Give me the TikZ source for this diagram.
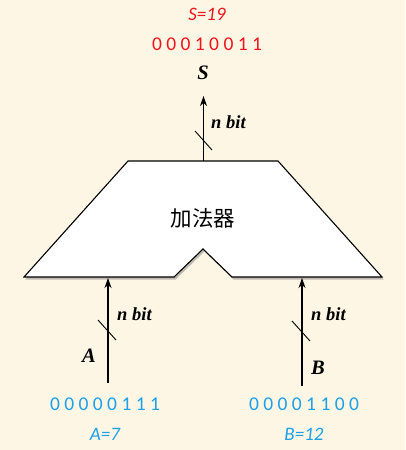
\documentclass[tikz,border=0pt]{standalone}
\usepackage{fontspec}
\setmainfont{Liberation Serif}
\newfontfamily\calfont{Carlito}
\newfontfamily\cjk{Noto Sans CJK SC}
\usetikzlibrary{arrows.meta,shadows}
\definecolor{bg}{RGB}{253,246,228}
\definecolor{bitblue}{RGB}{27,160,235}
\definecolor{bitred}{RGB}{240,20,30}
\tikzset{
  sig/.style={line width=1.1pt,-{Stealth[length=10pt,width=7pt,inset=3pt]}},
  slash/.style={line width=0.9pt},
  varlbl/.style={font=\fontsize{20.5}{20.5}\selectfont\itshape\bfseries,inner sep=0pt,anchor=base},
  nbitlbl/.style={font=\fontsize{18.5}{18.5}\selectfont\itshape\bfseries,inner sep=0pt,anchor=base west},
  binlbl/.style={font=\calfont\fontsize{19.5}{19.5}\selectfont,inner sep=0pt,anchor=base},
  vallbl/.style={font=\calfont\itshape\fontsize{19}{19}\selectfont,inner sep=0pt,anchor=base},
}
\begin{document}
\begin{tikzpicture}[x=1pt,y=-1pt]
\fill[bg] (0,0) rectangle (405,450);
\useasboundingbox (0,0) rectangle (405,450);
% adder body
\draw[line width=1.1pt,fill=white,drop shadow={shadow xshift=1.5pt,shadow yshift=-2.5pt,opacity=0.5}]
  (128,161) -- (278,161) -- (382,277) -- (232,277) -- (203,249) -- (174,277) -- (24,277) -- cycle;
\node[font=\cjk\fontsize{21.5}{21.5}\selectfont,inner sep=0pt] (add) at (203,218) {加法器};
% coordinates
\coordinate (outbase) at (203.5,161);
\coordinate (outtip) at (203.5,96);
\coordinate (abase) at (108,383);
\coordinate (atip) at (108,278);
\coordinate (bbase) at (302,386);
\coordinate (btip) at (302,278);
% arrows
\draw[sig] (outbase) -- (outtip);
\draw[sig] (abase) -- (atip);
\draw[sig] (bbase) -- (btip);
% slashes
\coordinate (s1a) at (195,131); \coordinate (s1b) at (212,150);
\coordinate (s2a) at (98,320);  \coordinate (s2b) at (116,340);
\coordinate (s3a) at (292,321); \coordinate (s3b) at (310,341);
\draw[slash] (s1a) -- (s1b);
\draw[slash] (s2a) -- (s2b);
\draw[slash] (s3a) -- (s3b);
% labels
\node[nbitlbl] (nb1) at (211,128) {n bit};
\node[nbitlbl] (nb2) at (117,320) {n bit};
\node[nbitlbl] (nb3) at (311,320) {n bit};
\node[varlbl] (S) at (203,79) {S};
\node[varlbl] (A) at (89,362) {A};
\node[varlbl] (B) at (318,374) {B};
\node[binlbl,text=bitred] (sbin) at (207,50) {0 0 0 1 0 0 1 1};
\node[vallbl,text=bitred] (sval) at (207,20) {S=19};
\node[binlbl,text=bitblue] (abin) at (105,410) {0 0 0 0 0 1 1 1};
\node[vallbl,text=bitblue] (aval) at (105,440) {A=7};
\node[binlbl,text=bitblue] (bbin) at (304,410) {0 0 0 0 1 1 0 0};
\node[vallbl,text=bitblue] (bval) at (304,440) {B=12};
\end{tikzpicture}
\end{document}
